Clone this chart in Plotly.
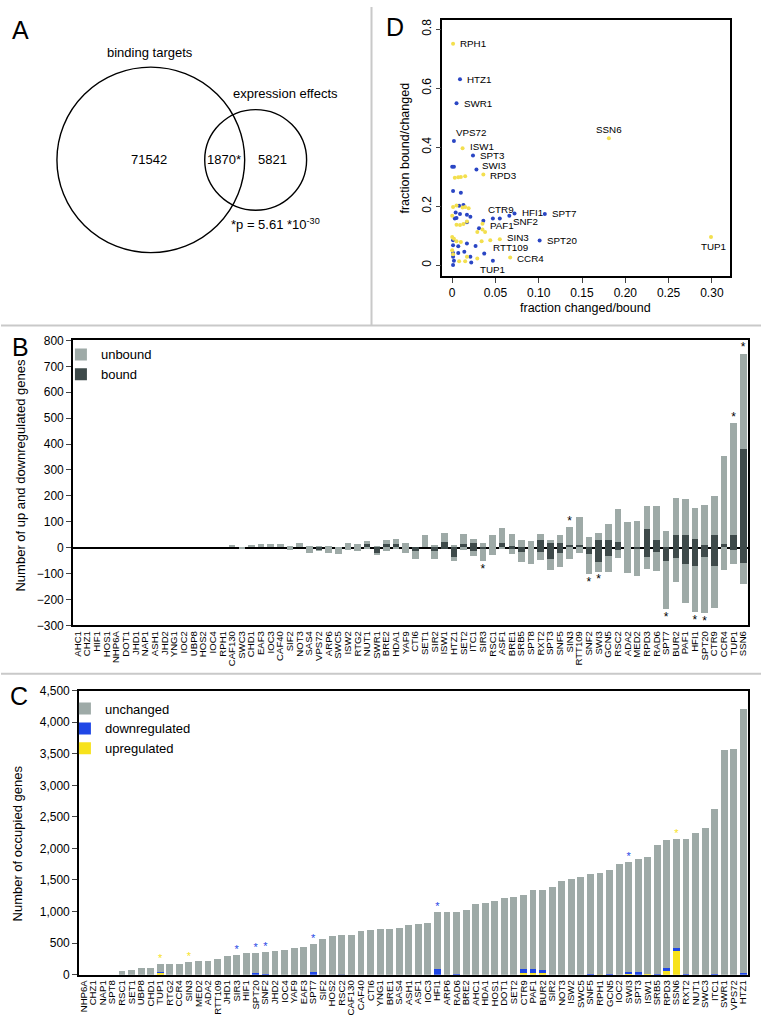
import plotly.graph_objects as go

W, H = 761, 1032
FONT = "Liberation Sans, Arial, Helvetica, sans-serif"

# ---------------- Panel A data (Venn) ----------------
venn_set_names = ["binding targets", "expression effects"]
venn_counts = [71542, 1870, 5821]          # only binding, overlap, only expression
venn_pvalue = "*p = 5.61 *10<sup>-30</sup>"

# ---------------- Panel B data ----------------
b_genes = ["AHC1", "CHZ1", "HIF1", "HOS1", "NHP6A", "DOT1", "JHD1", "NAP1", "ASH1", "JHD2",
           "YNG1", "IOC2", "UBP8", "HOS2", "IOC4", "RPH1", "CAF130", "SWC3", "CHD1", "EAF3",
           "IOC3", "CAF40", "SIF2", "NOT3", "SAS4", "VPS72", "ARP6", "SWC5", "ISW2", "RTG2",
           "NUT1", "SWR1", "BRE2", "HDA1", "YAF9", "CTI6", "SET1", "SIR2", "ISW1", "HTZ1",
           "SET2", "ITC1", "SIR3", "RSC1", "ASF1", "BRE1", "SRB5", "SPT8", "RXT2", "SPT3",
           "SNF5", "SIN3", "RTT109", "SNF2", "SWI3", "GCN5", "RSC2", "ADA2", "MED2", "RPD3",
           "RAD6", "SPT7", "BUR2", "PAF1", "HFI1", "SPT20", "CTR9", "CCR4", "TUP1", "SSN6"]
b_up_total = [0, 0, 0, 0, 0, 0, 0, 0, 0, 0,
              0, 0, 0, 0, 0, 0, 8, 0, 9, 11,
              11, 11, 5, 15, 3, 3, 5, 0, 15, 11,
              24, 3, 28, 34, 18, 1, 46, 8, 56, 8,
              53, 33, 15, 46, 75, 53, 28, 23, 53, 30,
              49, 79, 117, 38, 56, 91, 147, 96, 100, 160,
              160, 62, 189, 185, 152, 163, 198, 354, 479, 747]
b_up_bound = [0, 0, 0, 0, 0, 0, 0, 0, 0, 0,
              0, 0, 0, 0, 0, 0, 0, 0, 0, 0,
              0, 0, 0, 0, 0, 0, 0, 0, 0, 0,
              11, 0, 11, 11, 0, 0, 0, 5, 22, 0,
              13, 18, 0, 0, 15, 5, 0, 0, 30, 15,
              15, 9, 9, 0, 28, 28, 20, 0, 0, 72,
              28, 0, 46, 48, 33, 9, 47, 11, 49, 379]
b_down_total = [0, 0, 0, 0, 0, 0, 0, 0, 0, 0,
                0, 0, 0, 0, 0, 0, 0, -8, 0, 0,
                0, 0, -10, 0, -20, -13, -23, -27, -9, -13,
                -8, -28, -14, -8, -20, -46, 0, -45, -5, -53,
                -9, -33, -54, -28, -8, -27, -58, -66, -48, -86,
                -74, -46, -20, -103, -94, -96, -43, -99, -109, -84,
                -90, -238, -134, -213, -251, -255, -233, -86, -66, -141]
b_down_bound = [0, 0, 0, 0, 0, 0, 0, 0, 0, 0,
                0, 0, 0, 0, 0, 0, 0, 0, 0, 0,
                0, 0, 0, 0, 0, -12, 0, 0, 0, 0,
                0, -20, 0, 0, 0, -13, 0, -13, -5, -38,
                0, -14, -7, 0, 0, -5, -18, 0, -18, -46,
                -23, 0, 0, -27, -58, -33, -10, 0, -5, -39,
                -18, -52, -43, -65, -71, -37, -71, 0, -10, -61]
b_star_up = ["SIN3", "TUP1", "SSN6"]
b_star_down = ["SIR3", "SNF2", "SWI3", "SPT7", "HFI1", "SPT20"]

# ---------------- Panel C data ----------------
c_genes = ["NHP6A", "CHZ1", "NAP1", "SPT8", "RSC1", "SET1", "UBP8", "CHD1", "TUP1", "RTG2",
           "CCR4", "SIN3", "MED2", "ADA2", "RTT109", "JHD1", "SIR3", "HIF1", "SPT20", "SNF2",
           "JHD2", "IOC4", "YAF9", "EAF3", "SPT7", "SIF2", "HOS2", "RSC2", "CAF130", "CAF40",
           "CTI6", "YNG1", "BRE1", "SAS4", "ASH1", "ASF1", "IOC3", "HFI1", "ARP6", "RAD6",
           "BRE2", "AHC1", "HDA1", "HOS1", "DOT1", "SET2", "CTR9", "PAF1", "BUR2", "SIR2",
           "NOT3", "ISW2", "SWC5", "SNF5", "RPH1", "GCN5", "IOC2", "SWI3", "SPT3", "ISW1",
           "SRB5", "RPD3", "SSN6", "RXT2", "NUT1", "SWC3", "ITC1", "SWR1", "VPS72", "HTZ1"]
c_total = [0, 0, 0, 0, 57, 83, 109, 120, 172, 182,
           182, 203, 219, 229, 260, 297, 313, 349, 349, 370,
           380, 401, 432, 438, 495, 573, 625, 641, 641, 703,
           719, 729, 735, 750, 792, 808, 823, 1005, 1005, 1005,
           1026, 1125, 1136, 1177, 1224, 1230, 1276, 1355, 1355, 1391,
           1490, 1527, 1553, 1594, 1625, 1667, 1761, 1787, 1839, 1875,
           2063, 2141, 2151, 2162, 2256, 2323, 2625, 3568, 3584, 4209]
c_down = [0, 0, 0, 0, 0, 0, 0, 0, 8, 0,
          0, 0, 0, 0, 0, 0, 0, 0, 40, 20,
          0, 0, 0, 0, 50, 0, 0, 8, 0, 0,
          0, 0, 0, 0, 0, 0, 0, 95, 0, 18,
          0, 0, 0, 0, 0, 0, 65, 65, 40, 0,
          0, 0, 0, 15, 0, 25, 0, 40, 50, 0,
          10, 30, 52, 12, 0, 0, 12, 0, 0, 40]
c_up = [0, 0, 0, 0, 0, 0, 0, 0, 40, 0,
        0, 0, 0, 0, 0, 0, 0, 0, 0, 0,
        0, 0, 0, 0, 0, 0, 0, 0, 0, 0,
        0, 0, 0, 0, 0, 0, 0, 0, 0, 0,
        0, 0, 0, 0, 0, 0, 35, 35, 35, 0,
        0, 0, 0, 0, 5, 0, 0, 10, 0, 10,
        0, 78, 380, 0, 0, 0, 0, 0, 0, 0]
c_star_up = ["TUP1", "SIN3", "SSN6"]
c_star_down = ["SIR3", "SPT20", "SNF2", "SPT7", "HFI1", "SWI3"]

# ---------------- Panel D data ----------------
d_gene = ["RPH1", "HTZ1", "SWR1", "VPS72", "ISW1", "SPT3", "SWI3", "RPD3", "SSN6", "CTR9",
          "HFI1", "SPT7", "SNF2", "PAF1", "SIN3", "RTT109", "SPT20", "CCR4", "TUP1", "TUP1",
          "", "", "", "", "", "", "", "", "", "", "", "", "", "", "", "", "", "", "", "",
          "", "", "", "", "", "", "", "", "", "", "",
          "", "", "", "", "", "", "", "", "", "", "", "", "", "", "", "", "", "", "", "",
          "", "", "", "", "", "", ""]
d_x = [0.001, 0.009, 0.005, 0.002, 0.012, 0.024, 0.028, 0.036, 0.181, 0.055,
       0.072, 0.107, 0.066, 0.036, 0.055, 0.044, 0.101, 0.067, 0.047, 0.299,
       0.000, 0.002, 0.001, 0.010, 0.008, 0.013, 0.004, 0.009, 0.017, 0.003,
       0.021, 0.017, 0.031, 0.047, 0.001, 0.001, 0.007, 0.017, 0.027, 0.014,
       0.001, 0.007, 0.001, 0.002, 0.001, 0.021, 0.022, 0.037, 0.005, 0.035, 0.012,
       0.003, 0.007, 0.010, 0.015, 0.001, 0.005, 0.015, 0.019, 0.000, 0.005,
       0.009, 0.013, 0.017, 0.029, 0.035, 0.038, 0.034, 0.000, 0.002, 0.005,
       0.010, 0.000, 0.001, 0.008, 0.015, 0.017, 0.029]
d_y = [0.751, 0.630, 0.549, 0.421, 0.396, 0.372, 0.324, 0.307, 0.430, 0.158,
       0.175, 0.173, 0.167, 0.150, 0.088, 0.084, 0.083, 0.026, 0.015, 0.095,
       0.334, 0.334, 0.251, 0.245, 0.201, 0.204, 0.178, 0.173, 0.171, 0.158,
       0.164, 0.145, 0.125, 0.158, 0.084, 0.067, 0.064, 0.073, 0.065, 0.045,
       0.041, 0.041, 0.028, 0.015, 0.000, 0.028, 0.009, 0.039, 0.160, 0.140, 0.195,
       0.296, 0.298, 0.299, 0.301, 0.197, 0.202, 0.197, 0.193, 0.167, 0.137,
       0.136, 0.139, 0.148, 0.112, 0.121, 0.112, 0.081, 0.095, 0.089, 0.081,
       0.078, 0.050, 0.037, 0.013, 0.013, 0.028, 0.022]
d_dir = ["up", "down", "down", "down", "up", "down", "down", "up", "up", "down",
         "down", "down", "down", "down", "up", "up", "down", "up", "down", "up",
         "down", "down", "down", "down", "down", "down", "down", "down", "down", "down",
         "down", "down", "down", "down", "down", "down", "down", "down", "down", "down",
         "down", "down", "down", "down", "down", "down", "down", "down", "down", "up", "up",
         "up", "up", "up", "up", "up", "up", "up", "up", "up", "up",
         "up", "up", "up", "up", "up", "up", "up", "up", "up", "up",
         "up", "up", "up", "up", "up", "up", "up"]
# label placement (style only): anchor, x shift px, y shift px (positive = up)
d_label_style = [("left", 5, 0), ("left", 5, 0), ("left", 5, 0), ("left", 0, 8), ("left", 5, 2),
                 ("left", 5, 0), ("left", 4, 4), ("left", 5, -1), ("center", 0, 9), ("center", 1, 9),
                 ("left", 5, 1), ("left", 5, 1), ("left", 2, -6), ("left", 5, -5), ("left", 5, 2),
                 ("left", 1, -7), ("left", 5, 0), ("left", 5, -1), ("center", 0, -9), ("center", 3, -9)]

# ---------------- styles ----------------
LIGHT = "#9eaaa7"
DARK = "#3e4a4a"
BLUE = "#1f47e6"
YELLOW = "#f7e21c"
D_BLUE = "#2a46c4"
D_YELLOW = "#f3df4e"


def dx(p):
    return p / W


def dy(p):
    return 1 - p / H


fig = go.Figure()

# ---- Panel B traces ----
b_up_unbound = [t - b for t, b in zip(b_up_total, b_up_bound)]
b_down_unbound = [t - b for t, b in zip(b_down_total, b_down_bound)]
bw = 0.68
fig.add_trace(go.Bar(x=b_genes, y=b_up_bound, marker_color=DARK, marker_line_width=0, width=bw,
                     name="bound", legendgroup="bound", legend="legend", legendrank=2,
                     xaxis="x", yaxis="y"))
fig.add_trace(go.Bar(x=b_genes, y=b_up_unbound, marker_color=LIGHT, marker_line_width=0, width=bw,
                     name="unbound", legendgroup="unbound", legend="legend", legendrank=1,
                     xaxis="x", yaxis="y"))
fig.add_trace(go.Bar(x=b_genes, y=b_down_bound, marker_color=DARK, marker_line_width=0, width=bw,
                     name="bound", legendgroup="bound", showlegend=False, xaxis="x", yaxis="y"))
fig.add_trace(go.Bar(x=b_genes, y=b_down_unbound, marker_color=LIGHT, marker_line_width=0, width=bw,
                     name="unbound", legendgroup="unbound", showlegend=False, xaxis="x", yaxis="y"))

b_star_x = b_star_up + b_star_down
b_star_y = [b_up_total[b_genes.index(g)] + 22 for g in b_star_up] + \
           [b_down_total[b_genes.index(g)] - 32 for g in b_star_down]
fig.add_trace(go.Scatter(x=b_star_x, y=b_star_y, mode="text", text=["*"] * len(b_star_x),
                         textfont=dict(size=12, color="black", family=FONT), showlegend=False,
                         hoverinfo="skip", xaxis="x", yaxis="y"))

# ---- Panel C traces ----
c_unchanged = [t - d - u for t, d, u in zip(c_total, c_down, c_up)]
cw = 0.72
fig.add_trace(go.Bar(x=c_genes, y=c_up, marker_color=YELLOW, marker_line_width=0, width=cw,
                     name="upregulated", legend="legend2", legendrank=3, xaxis="x2", yaxis="y2"))
fig.add_trace(go.Bar(x=c_genes, y=c_down, marker_color=BLUE, marker_line_width=0, width=cw,
                     name="downregulated", legend="legend2", legendrank=2, xaxis="x2", yaxis="y2"))
fig.add_trace(go.Bar(x=c_genes, y=c_unchanged, marker_color=LIGHT, marker_line_width=0, width=cw,
                     name="unchanged", legend="legend2", legendrank=1, xaxis="x2", yaxis="y2"))
fig.add_trace(go.Scatter(x=c_star_up, y=[c_total[c_genes.index(g)] + 70 for g in c_star_up],
                         mode="text", text=["*"] * len(c_star_up),
                         textfont=dict(size=11, color=YELLOW, family=FONT), showlegend=False,
                         hoverinfo="skip", xaxis="x2", yaxis="y2"))
fig.add_trace(go.Scatter(x=c_star_down, y=[c_total[c_genes.index(g)] + 70 for g in c_star_down],
                         mode="text", text=["*"] * len(c_star_down),
                         textfont=dict(size=11, color=BLUE, family=FONT), showlegend=False,
                         hoverinfo="skip", xaxis="x2", yaxis="y2"))

# ---- Panel D traces ----
for kind, col in (("down", D_BLUE), ("up", D_YELLOW)):
    xs = [x for x, k in zip(d_x, d_dir) if k == kind]
    ys = [y for y, k in zip(d_y, d_dir) if k == kind]
    fig.add_trace(go.Scatter(x=xs, y=ys, mode="markers", marker=dict(size=4, color=col),
                             showlegend=False, xaxis="x3", yaxis="y3"))

ann = []
lab_font = dict(family=FONT, size=9.8, color="black")
for i, g in enumerate(d_gene):
    if not g:
        continue
    anc, sx, sy = d_label_style[i]
    ann.append(dict(xref="x3", yref="y3", x=d_x[i], y=d_y[i], text=g, showarrow=False,
                    xanchor=anc, yanchor="middle", xshift=sx, yshift=sy, font=lab_font))

# ---- Panel A (Venn) ----
big_c, big_r = (150, 155), 94
small_c, small_r = (255, 155), 51
shapes = []
for (cx, cy), r in ((big_c, big_r), (small_c, small_r)):
    shapes.append(dict(type="circle", xref="x4", yref="y4", x0=cx - r, x1=cx + r, y0=cy - r, y1=cy + r,
                       line=dict(color="black", width=1.4)))
# dividers
div = dict(color="#c9c9c9", width=2)
shapes.append(dict(type="line", xref="paper", yref="paper", x0=0, x1=1, y0=dy(323), y1=dy(323), line=div))
shapes.append(dict(type="line", xref="paper", yref="paper", x0=dx(371), x1=dx(371), y0=dy(323), y1=1, line=div))
shapes.append(dict(type="line", xref="paper", yref="paper", x0=0, x1=1, y0=dy(676), y1=dy(676), line=div))

tf = dict(family=FONT, size=13, color="black")
ann.append(dict(xref="x4", yref="y4", x=149, y=46, text=venn_set_names[0], showarrow=False, font=tf))
ann.append(dict(xref="x4", yref="y4", x=285, y=88, text=venn_set_names[1], showarrow=False, font=tf))
ann.append(dict(xref="x4", yref="y4", x=148, y=155, text=str(venn_counts[0]), showarrow=False, font=tf))
ann.append(dict(xref="x4", yref="y4", x=223, y=155, text=str(venn_counts[1]) + "*", showarrow=False, font=tf))
ann.append(dict(xref="x4", yref="y4", x=272, y=155, text=str(venn_counts[2]), showarrow=False, font=tf))
ann.append(dict(xref="x4", yref="y4", x=275, y=220, text=venn_pvalue, showarrow=False, font=tf))

# panel letters
lf = dict(family=FONT, size=25, color="black")
for letter, x, y in (("A", 20, 23), ("B", 20, 345), ("C", 18, 698), ("D", 395, 20)):
    ann.append(dict(xref="paper", yref="paper", x=dx(x), y=dy(y), text=letter, showarrow=False,
                    font=lf, xanchor="center", yanchor="middle"))

# axis titles
af = dict(family=FONT, size=13, color="black")
ann.append(dict(xref="paper", yref="paper", x=dx(20), y=dy(475), text="Number of up and downregulated genes",
                textangle=-90, showarrow=False, font=af, xanchor="center", yanchor="middle"))
ann.append(dict(xref="paper", yref="paper", x=dx(17), y=dy(848), text="Number of occupied genes",
                textangle=-90, showarrow=False, font=af, xanchor="center", yanchor="middle"))
ann.append(dict(xref="paper", yref="paper", x=dx(585), y=dy(305), text="fraction changed/bound",
                showarrow=False, font=dict(family=FONT, size=12.5, color="black"),
                xanchor="center", yanchor="middle"))
ann.append(dict(xref="paper", yref="paper", x=dx(405), y=dy(143), text="fraction bound/changed",
                textangle=-90, showarrow=False, font=dict(family=FONT, size=12.5, color="black"),
                xanchor="center", yanchor="middle"))

tick_font = dict(family=FONT, size=12, color="black")
xlab_font = dict(family=FONT, size=9.6, color="black")
box = dict(showline=True, mirror=True, linecolor="black", linewidth=1.5, showgrid=False, zeroline=False)

fig.update_layout(
    width=W, height=H,
    margin=dict(l=0, r=0, t=0, b=0),
    paper_bgcolor="white", plot_bgcolor="white",
    barmode="relative", bargap=0,
    font=dict(family=FONT, color="black"),
    shapes=shapes, annotations=ann,
    xaxis=dict(domain=[dx(72), dx(748)], anchor="y", type="category", range=[-0.5, 69.5],
               tickmode="array", tickvals=b_genes, ticktext=b_genes, tickangle=-90,
               tickfont=xlab_font, ticks="", **box),
    yaxis=dict(domain=[dy(627), dy(338)], anchor="x", range=[-300, 800], tickmode="array",
               tickvals=list(range(-300, 801, 100)), ticks="outside", ticklen=5, tickwidth=1.2,
               tickfont=tick_font, showline=True, mirror=True, linecolor="black", linewidth=1.5,
               showgrid=False, zeroline=True, zerolinecolor="black", zerolinewidth=1.5),
    xaxis2=dict(domain=[dx(78), dx(748)], anchor="y2", type="category", range=[-0.5, 69.5],
                tickmode="array", tickvals=c_genes, ticktext=c_genes, tickangle=-90,
                tickfont=xlab_font, ticks="", **box),
    yaxis2=dict(domain=[dy(981), dy(693)], anchor="x2", range=[0, 4500], tickmode="array",
                tickvals=list(range(0, 4501, 500)), tickformat=",d", ticks="outside", ticklen=5,
                tickwidth=1.2, tickfont=tick_font, **box),
    xaxis3=dict(domain=[dx(442), dx(730)], anchor="y3", range=[-0.0113, 0.321], tickmode="array",
                tickvals=[0, 0.05, 0.10, 0.15, 0.20, 0.25, 0.30],
                ticktext=["0", "0.05", "0.10", "0.15", "0.20", "0.25", "0.30"],
                ticks="outside", ticklen=5, tickwidth=1.2, tickfont=tick_font, **box),
    yaxis3=dict(domain=[dy(273), dy(13)], anchor="x3", range=[-0.038, 0.832], tickmode="array",
                tickvals=[0, 0.2, 0.4, 0.6, 0.8], ticktext=["0", "0.2", "0.4", "0.6", "0.8"],
                tickangle=-90, ticks="outside", ticklen=5, tickwidth=1.2, tickfont=tick_font, **box),
    xaxis4=dict(domain=[0, dx(371)], anchor="y4", range=[0, 371], visible=False, fixedrange=True),
    yaxis4=dict(domain=[dy(323), 1], anchor="x4", range=[323, 0], visible=False, fixedrange=True),
    legend=dict(x=dx(60), y=dy(337), xanchor="left", yanchor="top", traceorder="normal",
                bgcolor="rgba(0,0,0,0)", font=dict(family=FONT, size=13, color="black"),
                itemsizing="constant", tracegroupgap=0),
    legend2=dict(x=dx(64), y=dy(696), xanchor="left", yanchor="top", traceorder="normal",
                 bgcolor="rgba(0,0,0,0)", font=dict(family=FONT, size=13, color="black"),
                 itemsizing="constant", tracegroupgap=0),
)

fig.write_html("out.html", config={"displayModeBar": False},
               post_script="document.body.style.margin='0px';document.body.style.padding='0px';")
